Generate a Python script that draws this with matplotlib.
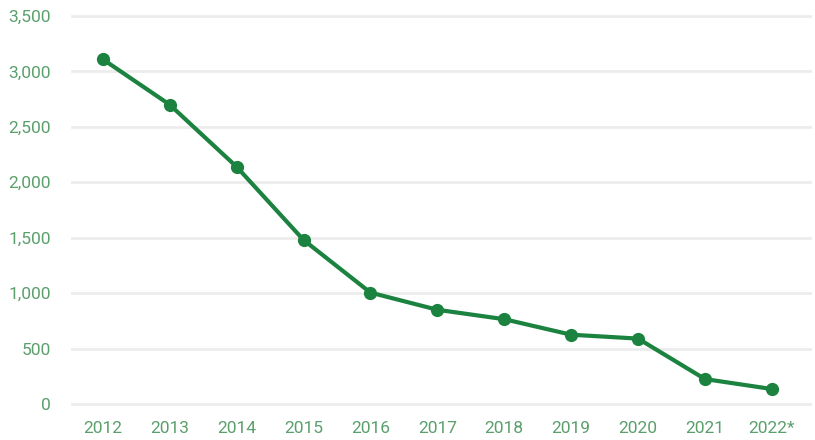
import matplotlib
matplotlib.use('Agg')
from matplotlib import pyplot as plt
from matplotlib.ticker import FuncFormatter

years = ['2012', '2013', '2014', '2015', '2016', '2017', '2018', '2019', '2020', '2021', '2022*']
values = [3110, 2700, 2140, 1480, 1005, 850, 765, 625, 590, 225, 135]
yticks = [0, 500, 1000, 1500, 2000, 2500, 3000, 3500]

line_green = '#1b8240'
text_green = '#5a9f6c'

plt.rcParams['font.family'] = ['Roboto', 'DejaVu Sans']

fig = plt.figure(figsize=(8.15, 4.4), dpi=100)
ax = fig.add_axes([72 / 815, 36 / 440, 738 / 815, 388 / 440])

x = list(range(len(years)))
ax.plot(x, values, color=line_green, linewidth=3.0, marker='o', markersize=8.5, zorder=3)

ax.set_xlim(-0.46, 10.57)
ax.set_ylim(0, 3500)
ax.set_xticks(x)
ax.set_xticklabels(years)
ax.set_yticks(yticks)
ax.yaxis.set_major_formatter(FuncFormatter(lambda v, p: f'{int(v):,}'))

ax.grid(axis='y', color='#ececec', linewidth=2)
for gl in ax.get_ygridlines():
    gl.set_clip_on(False)
ax.set_axisbelow(True)
for s in ax.spines.values():
    s.set_visible(False)
ax.tick_params(axis='both', length=0, labelcolor=text_green, labelsize=12.5)
ax.tick_params(axis='y', pad=15)
ax.tick_params(axis='x', pad=12)

fig.savefig('out.png', dpi=100)
